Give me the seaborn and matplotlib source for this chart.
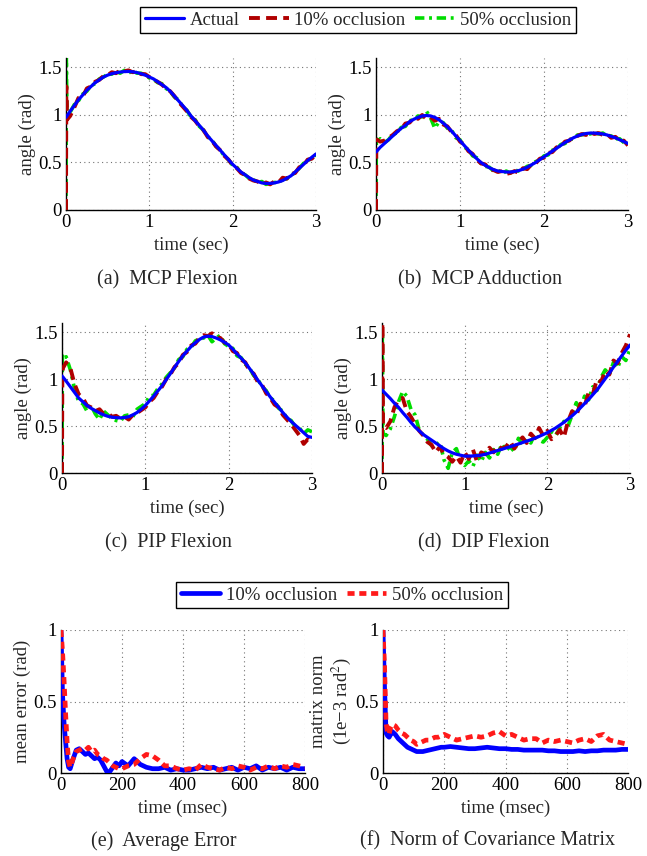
import numpy as np
import seaborn as sns
import matplotlib.pyplot as plt

# time grids
t_sec = np.round(np.linspace(0, 3, 61), 2)
t_est = np.concatenate([[0.0, 0.004, 0.012], t_sec[1:]])
t_ms = np.concatenate([[0, 5, 10, 15, 20, 25, 30], np.arange(40, 201, 10), np.arange(220, 801, 20)])

# (a) MCP flexion
mcp_flex_actual = [0.975, 1.04, 1.10, 1.16, 1.21, 1.26, 1.30, 1.34, 1.37, 1.40, 1.42, 1.435, 1.445, 1.452, 1.457,
                   1.458, 1.455, 1.447, 1.435, 1.42, 1.40, 1.38, 1.35, 1.32, 1.29, 1.25, 1.20, 1.15, 1.10, 1.05,
                   0.99, 0.94, 0.89, 0.84, 0.78, 0.73, 0.68, 0.63, 0.58, 0.53, 0.48, 0.44, 0.40, 0.37, 0.34,
                   0.315, 0.30, 0.285, 0.28, 0.28, 0.285, 0.295, 0.31, 0.335, 0.36, 0.40, 0.44, 0.48, 0.52, 0.555, 0.59]
mcp_flex_10 = [0, 1.30, 0.95,
               0.99, 1.08, 1.18, 1.19, 1.28, 1.30, 1.35, 1.37, 1.41, 1.42, 1.45, 1.44, 1.47, 1.46, 1.47, 1.45,
               1.46, 1.43, 1.43, 1.40, 1.37, 1.35, 1.32, 1.28, 1.25, 1.20, 1.14, 1.09, 1.04, 0.98, 0.94, 0.88,
               0.84, 0.77, 0.73, 0.67, 0.63, 0.57, 0.53, 0.47, 0.44, 0.39, 0.37, 0.33, 0.31, 0.30, 0.27, 0.29,
               0.27, 0.30, 0.29, 0.34, 0.33, 0.38, 0.39, 0.45, 0.47, 0.53, 0.54, 0.59]
mcp_flex_50 = [0, 1.60, 0.98,
               1.03, 1.11, 1.15, 1.22, 1.25, 1.31, 1.33, 1.38, 1.40, 1.43, 1.43, 1.46, 1.44, 1.47, 1.44, 1.47,
               1.44, 1.44, 1.42, 1.39, 1.38, 1.34, 1.33, 1.28, 1.25, 1.19, 1.16, 1.09, 1.05, 0.98, 0.95, 0.88,
               0.84, 0.77, 0.74, 0.67, 0.63, 0.57, 0.53, 0.47, 0.45, 0.39, 0.37, 0.33, 0.32, 0.29, 0.30, 0.27,
               0.28, 0.29, 0.29, 0.32, 0.33, 0.37, 0.39, 0.44, 0.49, 0.51, 0.56, 0.58]

# (b) MCP adduction
mcp_add_actual = [0.61, 0.66, 0.70, 0.74, 0.78, 0.82, 0.86, 0.89, 0.93, 0.955, 0.975, 0.99, 0.995, 0.99, 0.975,
                  0.95, 0.915, 0.875, 0.83, 0.78, 0.73, 0.68, 0.63, 0.585, 0.54, 0.50, 0.47, 0.445, 0.425, 0.41,
                  0.405, 0.40, 0.40, 0.405, 0.415, 0.43, 0.45, 0.475, 0.50, 0.53, 0.56, 0.59, 0.62, 0.65, 0.68,
                  0.71, 0.735, 0.76, 0.78, 0.795, 0.805, 0.81, 0.81, 0.805, 0.80, 0.79, 0.775, 0.76, 0.74, 0.72, 0.70]
mcp_add_10 = [0, 0.70, 0.74,
              0.72, 0.73, 0.76, 0.79, 0.83, 0.85, 0.91, 0.92, 0.97, 0.96, 1.00, 0.96, 0.98, 0.94, 0.96, 0.90,
              0.88, 0.82, 0.79, 0.72, 0.69, 0.62, 0.59, 0.53, 0.49, 0.48, 0.43, 0.42, 0.40, 0.41, 0.38, 0.39,
              0.41, 0.39, 0.44, 0.43, 0.48, 0.49, 0.54, 0.55, 0.60, 0.61, 0.66, 0.67, 0.72, 0.73, 0.77, 0.78,
              0.80, 0.79, 0.82, 0.80, 0.81, 0.79, 0.80, 0.76, 0.77, 0.73, 0.73, 0.68]
mcp_add_50 = [0, 0.75, 0.70,
              0.75, 0.71, 0.74, 0.80, 0.81, 0.87, 0.88, 0.94, 0.95, 0.99, 0.98, 1.04, 0.97, 0.86, 0.93, 0.92,
              0.86, 0.84, 0.76, 0.74, 0.66, 0.64, 0.57, 0.55, 0.49, 0.46, 0.45, 0.41, 0.42, 0.38, 0.41, 0.39,
              0.42, 0.41, 0.43, 0.46, 0.47, 0.51, 0.52, 0.57, 0.58, 0.63, 0.64, 0.69, 0.70, 0.74, 0.75, 0.79,
              0.79, 0.81, 0.80, 0.82, 0.80, 0.81, 0.78, 0.78, 0.75, 0.75, 0.71, 0.69]

# (c) PIP flexion
pip_actual = [1.035, 0.98, 0.92, 0.86, 0.80, 0.76, 0.72, 0.69, 0.665, 0.64, 0.62, 0.605, 0.595, 0.59, 0.588,
              0.592, 0.60, 0.62, 0.645, 0.68, 0.72, 0.77, 0.82, 0.875, 0.93, 0.995, 1.06, 1.125, 1.19, 1.25,
              1.30, 1.35, 1.39, 1.425, 1.45, 1.46, 1.455, 1.44, 1.42, 1.395, 1.365, 1.32, 1.27, 1.225, 1.175,
              1.115, 1.055, 0.99, 0.93, 0.87, 0.81, 0.755, 0.70, 0.645, 0.595, 0.55, 0.51, 0.47, 0.43, 0.39, 0.38]
pip_10 = [0, 1.05, 1.12,
          1.18, 1.12, 0.95, 0.84, 0.80, 0.72, 0.70, 0.66, 0.68, 0.63, 0.64, 0.60, 0.61, 0.58, 0.60, 0.57,
          0.62, 0.64, 0.67, 0.70, 0.76, 0.80, 0.87, 0.92, 1.00, 1.05, 1.13, 1.17, 1.26, 1.29, 1.36, 1.38,
          1.44, 1.47, 1.46, 1.49, 1.45, 1.44, 1.39, 1.38, 1.30, 1.28, 1.21, 1.18, 1.09, 1.06, 0.97, 0.94,
          0.85, 0.80, 0.73, 0.70, 0.62, 0.57, 0.52, 0.46, 0.40, 0.31, 0.36, 0.32]
pip_50 = [0, 1.25, 1.22,
          1.24, 1.10, 0.90, 0.76, 0.74, 0.66, 0.72, 0.63, 0.57, 0.66, 0.62, 0.58, 0.56, 0.55, 0.61, 0.62,
          0.60, 0.68, 0.71, 0.74, 0.82, 0.83, 0.90, 0.95, 1.02, 1.07, 1.12, 1.21, 1.24, 1.32, 1.34, 1.41,
          1.43, 1.44, 1.47, 1.40, 1.44, 1.47, 1.38, 1.35, 1.33, 1.25, 1.23, 1.16, 1.12, 1.04, 1.00, 0.92,
          0.88, 0.80, 0.77, 0.69, 0.66, 0.58, 0.56, 0.49, 0.48, 0.42, 0.46, 0.44]

# (d) DIP flexion
dip_actual = [0.885, 0.84, 0.795, 0.745, 0.70, 0.645, 0.595, 0.54, 0.49, 0.45, 0.41, 0.38, 0.35, 0.32, 0.29,
              0.26, 0.235, 0.215, 0.20, 0.19, 0.18, 0.18, 0.182, 0.186, 0.19, 0.20, 0.213, 0.226, 0.24, 0.253,
              0.267, 0.28, 0.295, 0.31, 0.325, 0.34, 0.355, 0.372, 0.39, 0.41, 0.43, 0.455, 0.48, 0.51, 0.54,
              0.575, 0.61, 0.65, 0.695, 0.74, 0.785, 0.835, 0.885, 0.945, 1.005, 1.065, 1.13, 1.19, 1.25, 1.31, 1.365]
dip_10 = [0, 1.60, 0.50,
          0.48, 0.55, 0.70, 0.78, 0.80, 0.66, 0.60, 0.52, 0.45, 0.40, 0.33, 0.30, 0.22, 0.28, 0.20, 0.17,
          0.12, 0.18, 0.11, 0.22, 0.15, 0.25, 0.12, 0.22, 0.20, 0.27, 0.22, 0.29, 0.26, 0.28, 0.34, 0.26,
          0.33, 0.38, 0.32, 0.42, 0.37, 0.48, 0.40, 0.45, 0.36, 0.40, 0.46, 0.38, 0.55, 0.66, 0.61, 0.74,
          0.71, 0.86, 0.84, 1.00, 0.97, 1.09, 1.05, 1.20, 1.17, 1.28, 1.36, 1.48]
dip_50 = [0, 1.50, 0.42,
          0.40, 0.47, 0.60, 0.76, 0.87, 0.82, 0.68, 0.62, 0.46, 0.40, 0.36, 0.29, 0.30, 0.33, 0.14, 0.05,
          0.22, 0.26, 0.13, 0.08, 0.13, 0.07, 0.19, 0.12, 0.22, 0.16, 0.25, 0.20, 0.31, 0.24, 0.28, 0.23,
          0.37, 0.30, 0.36, 0.32, 0.42, 0.35, 0.33, 0.38, 0.44, 0.40, 0.48, 0.55, 0.50, 0.62, 0.75, 0.68,
          0.82, 0.78, 0.92, 0.88, 1.02, 1.10, 1.05, 1.18, 1.12, 1.24, 1.20, 1.32]

# (e) average error, (f) covariance norm
err_10 = [1.00, 0.55, 0.35, 0.22, 0.10, 0.04, 0.03,
          0.10, 0.16, 0.17, 0.15, 0.13, 0.14, 0.12, 0.10, 0.11, 0.09, 0.05, 0.01, 0.01, 0.04, 0.07, 0.05, 0.08,
          0.05, 0.10, 0.06, 0.04, 0.03, 0.03, 0.04, 0.02, 0.03, 0.02, 0.02, 0.03, 0.04, 0.03, 0.04,
          0.02, 0.03, 0.04, 0.02, 0.04, 0.03, 0.05, 0.02, 0.04, 0.03, 0.04, 0.02, 0.04, 0.03, 0.03]
err_50 = [1.00, 0.85, 0.65, 0.42, 0.22, 0.08, 0.04,
          0.10, 0.15, 0.16, 0.17, 0.16, 0.18, 0.15, 0.16, 0.13, 0.12, 0.10, 0.09, 0.07, 0.05, 0.04, 0.03, 0.03,
          0.05, 0.06, 0.10, 0.13, 0.12, 0.09, 0.05, 0.05, 0.03, 0.02, 0.03, 0.02, 0.06, 0.04, 0.03,
          0.02, 0.04, 0.03, 0.05, 0.04, 0.02, 0.04, 0.03, 0.05, 0.03, 0.05, 0.04, 0.06, 0.05, 0.04]
cov_10 = [1.00, 0.60, 0.28, 0.26, 0.25, 0.27, 0.29,
          0.27, 0.24, 0.22, 0.20, 0.18, 0.17, 0.16, 0.15, 0.15, 0.15, 0.155, 0.16, 0.165, 0.17, 0.175, 0.18, 0.18,
          0.185, 0.18, 0.175, 0.17, 0.17, 0.175, 0.18, 0.175, 0.17, 0.17, 0.165, 0.165, 0.16, 0.16, 0.16,
          0.16, 0.155, 0.155, 0.15, 0.15, 0.15, 0.155, 0.15, 0.155, 0.155, 0.16, 0.16, 0.16, 0.165, 0.165]
cov_50 = [1.00, 0.75, 0.35, 0.28, 0.27, 0.32, 0.34,
          0.33, 0.30, 0.28, 0.27, 0.25, 0.23, 0.22, 0.20, 0.21, 0.22, 0.23, 0.23, 0.24, 0.25, 0.25, 0.26, 0.27,
          0.25, 0.23, 0.24, 0.25, 0.26, 0.25, 0.26, 0.28, 0.29, 0.26, 0.27, 0.25, 0.23, 0.24, 0.24,
          0.21, 0.23, 0.22, 0.23, 0.22, 0.21, 0.23, 0.24, 0.22, 0.26, 0.27, 0.23, 0.22, 0.21, 0.20]

sns.set_style("white")
plt.rcParams['font.family'] = ['Liberation Serif', 'DejaVu Serif']
plt.rcParams['mathtext.fontset'] = 'stix'

FS = 13.5
fig = plt.figure(figsize=(6.47, 8.56), dpi=100)


def style_axes(ax, xlim, ylim, xticks, yticks, ytl, xlabel, ylabel):
    ax.set_xlim(*xlim)
    ax.set_ylim(*ylim)
    ax.set_xticks(xticks)
    ax.set_xticklabels([str(v) for v in xticks])
    ax.set_yticks(yticks)
    ax.set_yticklabels(ytl)
    ax.grid(True, linestyle=(0, (1, 3)), color='0.45', lw=0.8)
    ax.set_axisbelow(True)
    sns.despine(ax=ax)
    for s in ['left', 'bottom']:
        ax.spines[s].set_color('black')
        ax.spines[s].set_linewidth(1.0)
    ax.tick_params(direction='in', length=3, labelsize=FS, pad=3, colors='black')
    ax.set_xlabel(xlabel, fontsize=FS, labelpad=4)
    ax.set_ylabel(ylabel, fontsize=FS, labelpad=2)


W, H = 647, 856
boxes = {
    'a': (66, 316, 58, 210), 'b': (376, 628, 58, 210),
    'c': (62, 312, 323, 473), 'd': (382, 630, 323, 473),
    'e': (61, 305, 630, 773), 'f': (383, 628, 630, 773),
}
axes = {}
for k, (x0, x1, y0, y1) in boxes.items():
    axes[k] = fig.add_axes([x0 / W, 1 - y1 / H, (x1 - x0) / W, (y1 - y0) / H])

blue = '#0000ff'
dred = '#b00000'
green = '#00dd00'
red = '#ff1a1a'

joint_panels = [('a', mcp_flex_actual, mcp_flex_10, mcp_flex_50),
                ('b', mcp_add_actual, mcp_add_10, mcp_add_50),
                ('c', pip_actual, pip_10, pip_50),
                ('d', dip_actual, dip_10, dip_50)]
for k, act, e10, e50 in joint_panels:
    ax = axes[k]
    sns.lineplot(x=t_est, y=e50, ax=ax, color=green, lw=2.6, linestyle=(0, (2.6, 1.3, 0.8, 1.3)),
                 sort=False, estimator=None, zorder=2, label='50% occlusion')
    sns.lineplot(x=t_est, y=e10, ax=ax, color=dred, lw=2.8, linestyle=(0, (2.8, 1.6)),
                 sort=False, estimator=None, zorder=3, label='10% occlusion')
    sns.lineplot(x=t_sec, y=act, ax=ax, color=blue, lw=2.3, sort=False, estimator=None,
                 zorder=4, label='Actual')
    if ax.get_legend():
        ax.get_legend().remove()
    style_axes(ax, (0, 3), (0, 1.6), [0, 1, 2, 3], [0, 0.5, 1, 1.5], ['0', '0.5', '1', '1.5'],
               'time (sec)', 'angle (rad)')

bottom_panels = [('e', err_10, err_50, 'mean error (rad)'),
                 ('f', cov_10, cov_50, 'matrix norm\n(1e\u22123 rad$^2$)')]
for k, s10, s50, ylab in bottom_panels:
    ax = axes[k]
    sns.lineplot(x=t_ms, y=s10, ax=ax, color=blue, lw=3.4, sort=False, estimator=None,
                 zorder=3, label='10% occlusion')
    sns.lineplot(x=t_ms, y=s50, ax=ax, color=red, lw=3.4, linestyle=(0, (1.5, 1.0)),
                 sort=False, estimator=None, zorder=4, label='50% occlusion')
    if ax.get_legend():
        ax.get_legend().remove()
    style_axes(ax, (0, 800), (0, 1), [0, 200, 400, 600, 800], [0, 0.5, 1], ['0', '0.5', '1'],
               'time (msec)', ylab)
    ax.yaxis.label.set_linespacing(1.1)

# legends
leg_kw = dict(loc='center', fontsize=FS, frameon=True, fancybox=False, edgecolor='black', framealpha=1,
              handlelength=2.1, handletextpad=0.3, columnspacing=0.5, borderpad=0.25, borderaxespad=0)
h, l = axes['a'].get_legend_handles_labels()
order = [2, 1, 0]
leg1 = fig.legend([h[i] for i in order], [l[i] for i in order], bbox_to_anchor=(358 / W, 1 - 20 / H),
                  ncol=3, **leg_kw)
h2, l2 = axes['e'].get_legend_handles_labels()
leg2 = fig.legend(h2, l2, bbox_to_anchor=(342 / W, 1 - 595 / H), ncol=2, **leg_kw)
for lg in (leg1, leg2):
    lg.get_frame().set_linewidth(1.0)

# captions
captions = [('(a)  MCP Flexion', 167, 280), ('(b)  MCP Adduction', 480, 280),
            ('(c)  PIP Flexion', 168, 543), ('(d)  DIP Flexion', 484, 543),
            ('(e)  Average Error', 164, 841), ('(f)  Norm of Covariance Matrix', 488, 841)]
for txt, cx, cy in captions:
    fig.text(cx / W, 1 - cy / H, txt, ha='center', va='center', fontsize=14.5)

fig.savefig('out.png', dpi=100)
